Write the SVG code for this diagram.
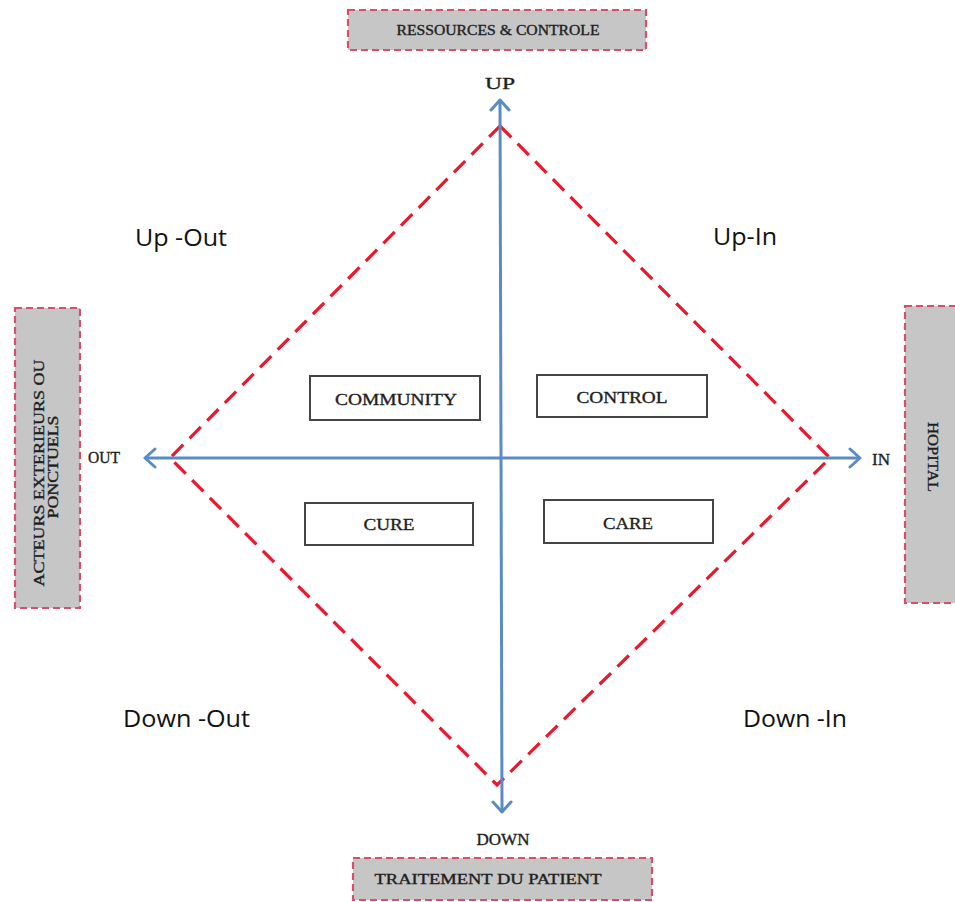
<svg xmlns="http://www.w3.org/2000/svg" width="955" height="902" viewBox="0 0 955 902">
<defs>
<style>
.side{fill:#c6c6c6;stroke:#d5506a;stroke-width:2.2;stroke-dasharray:7,4}
.node{fill:#ffffff;stroke:#444444;stroke-width:2}
.serif{font-family:"Liberation Serif","DejaVu Serif",serif;fill:#1e1e1e;stroke:#1e1e1e;stroke-width:0.35}
.quad{font-family:"Open Sans","Noto Sans",sans-serif;font-size:24px;fill:#111111}
.axis{stroke:#5b8bc5;stroke-width:3;fill:none}
.diamond{fill:none;stroke:#e8192c;stroke-width:3.2;stroke-dasharray:16,9}
</style>
<marker id="arr" viewBox="0 0 14 22" refX="12" refY="11" markerWidth="14" markerHeight="22" markerUnits="userSpaceOnUse" orient="auto-start-reverse">
<path d="M2,2 L12,11 L2,20" fill="none" stroke="#5b8bc5" stroke-width="3" stroke-linecap="round" stroke-linejoin="round"/>
</marker>
</defs>
<rect width="955" height="902" fill="#ffffff"/>

<g id="diamond">
<path class="diamond" d="M500,126 L830,458 L497,785 L170,458 Z"/>
</g>

<g id="connectors">
<line class="axis" x1="145" y1="458" x2="860" y2="458" marker-start="url(#arr)" marker-end="url(#arr)"/>
<line class="axis" x1="500" y1="100" x2="502" y2="812" marker-start="url(#arr)" marker-end="url(#arr)"/>
</g>

<g id="node-ressources">
<rect class="side" x="348" y="10" width="298" height="40"/>
<text class="serif" x="498" y="35" font-size="14" text-anchor="middle" textLength="203" lengthAdjust="spacingAndGlyphs">RESSOURCES &amp; CONTROLE</text>
</g>

<g id="node-acteurs">
<rect class="side" x="15" y="308" width="65" height="300"/>
<text class="serif" font-size="14" text-anchor="middle" transform="translate(44,473) rotate(-90)" textLength="227" lengthAdjust="spacingAndGlyphs">ACTEURS EXTERIEURS OU</text>
<text class="serif" font-size="14" text-anchor="middle" transform="translate(58,467) rotate(-90)" textLength="103" lengthAdjust="spacingAndGlyphs">PONCTUELS</text>
</g>

<g id="node-hopital">
<rect class="side" x="905" y="306" width="56" height="297"/>
<text class="serif" font-size="14" text-anchor="middle" transform="translate(928,457) rotate(90)" textLength="70" lengthAdjust="spacingAndGlyphs">HOPITAL</text>
</g>

<g id="node-traitement">
<rect class="side" x="353" y="858" width="299" height="42"/>
<text class="serif" x="488" y="884" font-size="14" text-anchor="middle" textLength="227" lengthAdjust="spacingAndGlyphs">TRAITEMENT DU PATIENT</text>
</g>

<g id="axis-labels">
<text class="serif" x="500" y="89" font-size="17" text-anchor="middle" textLength="30" lengthAdjust="spacingAndGlyphs">UP</text>
<text class="serif" x="104" y="463" font-size="16" text-anchor="middle" textLength="32" lengthAdjust="spacingAndGlyphs">OUT</text>
<text class="serif" x="881" y="465" font-size="16" text-anchor="middle" textLength="18" lengthAdjust="spacingAndGlyphs">IN</text>
<text class="serif" x="503" y="845" font-size="16" text-anchor="middle" textLength="53" lengthAdjust="spacingAndGlyphs">DOWN</text>
</g>

<g id="node-community">
<rect class="node" x="310" y="376" width="170" height="44"/>
<text class="serif" x="396" y="405" font-size="17" text-anchor="middle" textLength="122" lengthAdjust="spacingAndGlyphs">COMMUNITY</text>
</g>
<g id="node-control">
<rect class="node" x="537" y="375" width="170" height="42"/>
<text class="serif" x="622" y="403" font-size="17" text-anchor="middle" textLength="91" lengthAdjust="spacingAndGlyphs">CONTROL</text>
</g>
<g id="node-cure">
<rect class="node" x="305" y="503" width="168" height="42"/>
<text class="serif" x="389" y="530" font-size="17" text-anchor="middle" textLength="51" lengthAdjust="spacingAndGlyphs">CURE</text>
</g>
<g id="node-care">
<rect class="node" x="544" y="500" width="169" height="43"/>
<text class="serif" x="628" y="529" font-size="17" text-anchor="middle" textLength="50" lengthAdjust="spacingAndGlyphs">CARE</text>
</g>

<g id="quadrant-labels">
<text class="quad" x="135" y="246" textLength="92" lengthAdjust="spacingAndGlyphs">Up -Out</text>
<text class="quad" x="713" y="245" textLength="64" lengthAdjust="spacingAndGlyphs">Up-In</text>
<text class="quad" x="123" y="727" textLength="127" lengthAdjust="spacingAndGlyphs">Down -Out</text>
<text class="quad" x="743" y="727" textLength="104" lengthAdjust="spacingAndGlyphs">Down -In</text>
</g>
</svg>
